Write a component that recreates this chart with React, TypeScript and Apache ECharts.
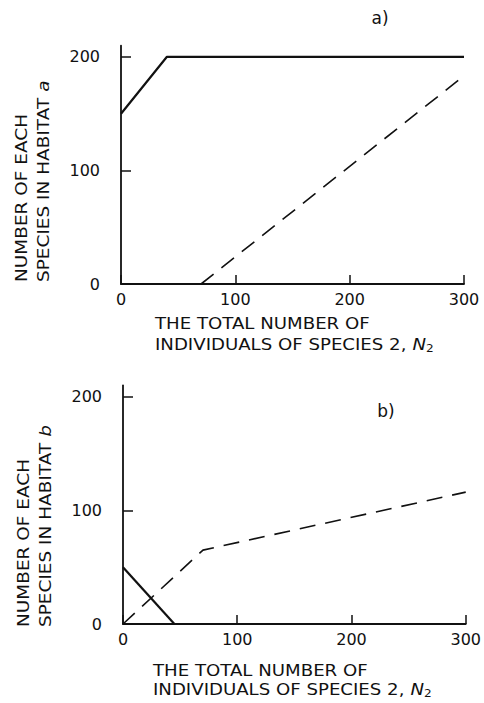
import React, { useEffect, useRef } from "react";
import * as echarts from "echarts";

const xTicks = [0, 100, 200, 300];
const yTicks = [0, 100, 200];

// Panel a) habitat a
const aSolid: [number, number][] = [[0, 150], [40, 200], [300, 200]];
const aDashed: [number, number][] = [[70, 0], [297, 181]];

// Panel b) habitat b
const bSolid: [number, number][] = [[0, 50], [45, 0]];
const bDashed: [number, number][] = [[0, 0], [70, 65], [300, 116]];

const FONT = "DejaVu Sans";
const INK = "#111";

function xAxisFor(gridIndex: number) {
  return {
    type: "value",
    gridIndex,
    min: 0,
    max: 300,
    interval: 100,
    axisLine: { show: true, lineStyle: { color: INK, width: 1.8 } },
    axisTick: { show: true, inside: true, length: 9, lineStyle: { color: INK, width: 1.5 }, customValues: xTicks },
    axisLabel: { show: true, margin: 7, color: INK, fontFamily: FONT, fontSize: 16, customValues: xTicks },
    splitLine: { show: false },
  };
}

function yAxisFor(gridIndex: number) {
  return {
    type: "value",
    gridIndex,
    min: 0,
    max: 210,
    interval: 100,
    axisLine: { show: true, lineStyle: { color: INK, width: 1.8 } },
    axisTick: { show: true, inside: true, length: 10, lineStyle: { color: INK, width: 1.5 }, customValues: yTicks },
    axisLabel: { show: true, margin: 21, color: INK, fontFamily: FONT, fontSize: 16, customValues: yTicks },
    splitLine: { show: false },
  };
}

function line(data: [number, number][], idx: number, dashed: boolean) {
  return {
    type: "line",
    xAxisIndex: idx,
    yAxisIndex: idx,
    data,
    symbol: "none",
    silent: true,
    lineStyle: dashed
      ? { color: INK, width: 1.6, type: [16, 10] }
      : { color: INK, width: 2.2, type: "solid" },
  };
}

const nameStyle = {
  fill: INK,
  fontFamily: FONT,
  fontSize: 16.5,
};

const rich = {
  i: { fontStyle: "italic", fontFamily: FONT, fontSize: 16.5, fill: INK },
  s: { fontFamily: FONT, fontSize: 11, fill: INK, padding: [8, 0, 0, 0], verticalAlign: "bottom" },
};

function yName(x1: number, x2: number, y: number, letter: string) {
  return [
    {
      type: "text",
      x: x1,
      y,
      rotation: Math.PI / 2,
      scaleX: 1.12,
      style: { ...nameStyle, text: "NUMBER OF EACH", align: "left", verticalAlign: "middle" },
    },
    {
      type: "text",
      x: x2,
      y,
      rotation: Math.PI / 2,
      scaleX: 1.12,
      style: {
        ...nameStyle,
        text: `SPECIES IN HABITAT {i|${letter}}`,
        rich,
        align: "left",
        verticalAlign: "middle",
      },
    },
  ];
}

function xName(x: number, y1: number, y2: number) {
  return [
    {
      type: "text",
      x,
      y: y1,
      scaleX: 1.1,
      style: { ...nameStyle, text: "THE TOTAL NUMBER OF", align: "left", verticalAlign: "middle" },
    },
    {
      type: "text",
      x,
      y: y2,
      scaleX: 1.1,
      style: {
        ...nameStyle,
        text: "INDIVIDUALS OF SPECIES 2, {i|N}{s|2}",
        rich,
        align: "left",
        verticalAlign: "middle",
      },
    },
  ];
}

export default function App() {
  const ref = useRef<HTMLDivElement>(null);
  useEffect(() => {
    if (!ref.current) return;
    const chart = echarts.init(ref.current, undefined, { renderer: "svg" });
    chart.setOption({
      animation: false,
      backgroundColor: "#fff",
      grid: [
        { left: 121, top: 45.6, width: 343, height: 238.4 },
        { left: 123, top: 385.3, width: 343, height: 238.7 },
      ],
      xAxis: [xAxisFor(0), xAxisFor(1)],
      yAxis: [yAxisFor(0), yAxisFor(1)],
      series: [
        line(aSolid, 0, false),
        line(aDashed, 0, true),
        line(bSolid, 1, false),
        line(bDashed, 1, true),
      ],
      graphic: [
        ...yName(21, 43, 282, "a"),
        ...xName(155, 323, 344),
        ...yName(23, 45, 627, "b"),
        ...xName(153, 670, 689),
        {
          type: "text",
          x: 380,
          y: 18,
          style: { ...nameStyle, fontSize: 17, text: "a)", align: "center", verticalAlign: "middle" },
        },
        {
          type: "text",
          x: 386,
          y: 411,
          style: { ...nameStyle, fontSize: 17, text: "b)", align: "center", verticalAlign: "middle" },
        },
      ],
    });
    return () => chart.dispose();
  }, []);
  return (
    <div
      ref={ref}
      style={{ position: "fixed", left: 0, top: 0, width: 484, height: 703, background: "#fff" }}
    />
  );
}
